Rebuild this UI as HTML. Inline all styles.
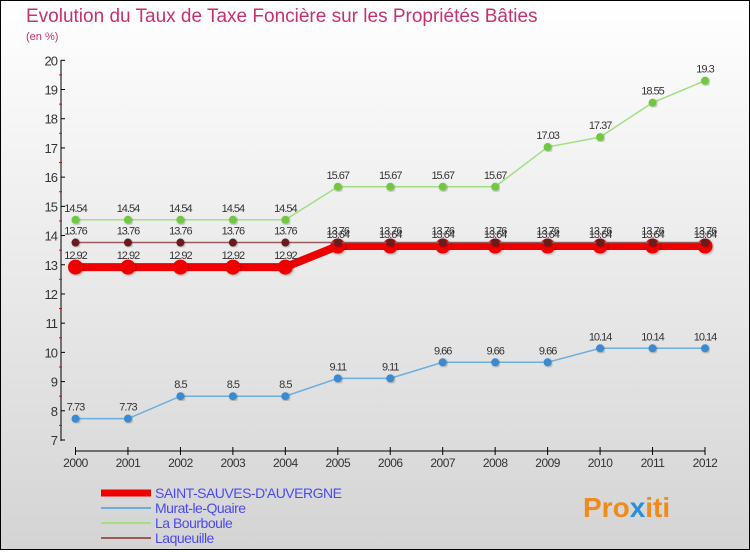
<!DOCTYPE html>
<html><head><meta charset="utf-8"><style>
body{margin:0;}
#c{width:750px;height:550px;position:relative;font-family:"Liberation Sans",sans-serif;}
</style></head><body>
<div id="c">
<svg id="s" width="750" height="550" xmlns="http://www.w3.org/2000/svg">
<defs><linearGradient id="bg" x1="0" y1="0" x2="0" y2="1"><stop offset="0" stop-color="#ffffff"/><stop offset="1" stop-color="#d4d4d4"/></linearGradient>
<filter id="sh"><feDropShadow dx="1" dy="1" stdDeviation="1" flood-opacity="0.3"/></filter></defs>
<rect x="0.5" y="0.5" width="749" height="549" fill="url(#bg)" stroke="#000"/>
<text x="26" y="22" font-size="19" fill="#c8306e">Evolution du Taux de Taxe Foncière sur les Propriétés Bâties</text>
<text x="26" y="40" font-size="11" fill="#c8306e">(en %)</text>
<g id="axes"></g><g id="series"></g><g id="legend"></g>
<text x="583" y="517" font-size="28" font-weight="bold" fill="#f08a1a">Pro<tspan fill="#2a8fd8">x</tspan>iti</text>
</svg>
</div>
<script>
const years=[2000,2001,2002,2003,2004,2005,2006,2007,2008,2009,2010,2011,2012];
const yTicks=[7,8,9,10,11,12,13,14,15,16,17,18,19,20];
const saint=[12.92,12.92,12.92,12.92,12.92,13.64,13.64,13.64,13.64,13.64,13.64,13.64,13.64];
const murat=[7.73,7.73,8.5,8.5,8.5,9.11,9.11,9.66,9.66,9.66,10.14,10.14,10.14];
const bourboule=[14.54,14.54,14.54,14.54,14.54,15.67,15.67,15.67,15.67,17.03,17.37,18.55,19.3];
const laqueuille=[13.76,13.76,13.76,13.76,13.76,13.76,13.76,13.76,13.76,13.76,13.76,13.76,13.76];
const names=["SAINT-SAUVES-D'AUVERGNE","Murat-le-Quaire","La Bourboule","Laqueuille"];
const NS="http://www.w3.org/2000/svg";
function X(i){return 75.5+i*(705-75.5)/(years.length-1);}
function Y(v){return 440-(v-7)*(440-60.3)/13;}
function mk(t,a,p){const e=document.createElementNS(NS,t);for(const k in a)e.setAttribute(k,a[k]);p.appendChild(e);return e;}
const ax=document.getElementById('axes');
mk('line',{x1:61,y1:60,x2:61,y2:441,stroke:'#000'},ax);
mk('line',{x1:75.5,y1:451,x2:705,y2:451,stroke:'#000'},ax);
yTicks.forEach(v=>{
 mk('line',{x1:61,y1:Y(v),x2:65,y2:Y(v),stroke:'#000'},ax);
 if(v<20)mk('line',{x1:59,y1:Y(v+0.5),x2:62,y2:Y(v+0.5),stroke:'#e00'},ax);
 const t=mk('text',{x:57,y:Y(v)+5,'font-size':13,'text-anchor':'end',fill:'#333','letter-spacing':'-1'},ax);
 t.textContent=v;
 
 
});
years.forEach((y,i)=>{
 mk('line',{x1:X(i),y1:447,x2:X(i),y2:455,stroke:'#000'},ax);
 const t=mk('text',{x:X(i),y:467,'font-size':12,'text-anchor':'middle',fill:'#333','letter-spacing':'-0.5'},ax);
 t.textContent=y;
 
 
});
const se=document.getElementById('series');
function draw(vals,col,dot,w,r,name){
 const g=mk('g',{},se);
 
 
 mk('polyline',{points:vals.map((v,i)=>X(i)+','+Y(v)).join(' '),fill:'none',stroke:col,'stroke-width':w},g);
 vals.forEach((v,i)=>{
  const c=mk('circle',{cx:X(i),cy:Y(v),r:r,fill:dot,filter:'url(#sh)'},g);
  
  
  const t=mk('text',{x:X(i),y:Y(v)-8,'font-size':11,'text-anchor':'middle',fill:'#333','letter-spacing':'-1'},g);
  t.textContent=v;
  
  
 });
}
draw(murat,'#6aaee0','#3a8ad0',1.5,4,'series-murat');
draw(bourboule,'#a0e080','#70c840',1.5,4,'series-la-bourboule');
draw(saint,'#ee0000','#ee0000',8,7.5,'series-saint-sauves');
draw(laqueuille,'#9a5a5a','#6a1a1a',1.5,4,'series-laqueuille');
const lg=document.getElementById('legend');
const cols=['#ee0000','#6aaee0','#a0e080','#9a5a5a'],ws=[7,2,2,2];
names.forEach((n,i)=>{
 const y=493+i*15;
 const g=mk('g',{},lg);
 
 
 mk('line',{x1:101,y1:y,x2:151,y2:y,stroke:cols[i],'stroke-width':ws[i]},g);
 const t=mk('text',{x:155,y:y+5,'font-size':14,fill:'#4a4af0','letter-spacing':'-0.5'},g);
 t.textContent=n;
});
</script>
</body></html>
